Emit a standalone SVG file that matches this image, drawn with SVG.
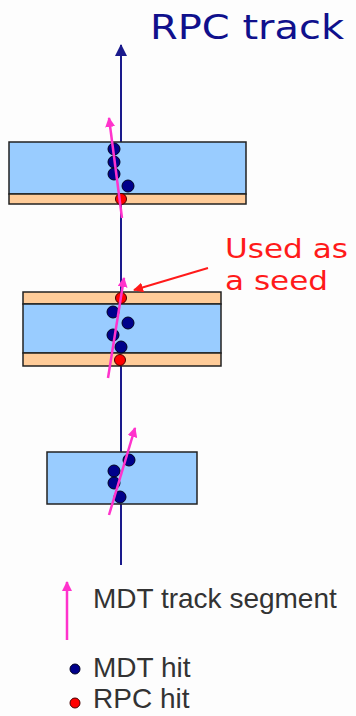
<svg xmlns="http://www.w3.org/2000/svg" width="356" height="716" viewBox="0 0 356 716">
<defs>
<style>
.mdt{fill:#99ccff;stroke:#222;stroke-width:1.5}
.rpc{fill:#ffcc99;stroke:#222;stroke-width:1.5}
.hm{fill:#00008b;stroke:#000022;stroke-width:1}
.hr{fill:#ff0000;stroke:#440000;stroke-width:1}
.seg{stroke:#ff33cc;stroke-width:2.5;fill:none;marker-end:url(#pk)}
.leg{font-family:"Liberation Sans",Arial,sans-serif;font-size:28px;fill:#333}
</style>
<marker id="pk" markerWidth="10" markerHeight="10" viewBox="0 0 10 10" refX="9" refY="5" orient="auto" markerUnits="userSpaceOnUse">
<path d="M0,0 L10,5 L0,10 z" fill="#ff33cc"/>
</marker>
<marker id="bl" markerWidth="12" markerHeight="12" viewBox="0 0 12 12" refX="11" refY="6" orient="auto" markerUnits="userSpaceOnUse">
<path d="M0,0 L12,6 L0,12 z" fill="#1a1a8c"/>
</marker>
<marker id="rd" markerWidth="10" markerHeight="10" viewBox="0 0 10 10" refX="9" refY="5" orient="auto" markerUnits="userSpaceOnUse">
<path d="M0,0 L10,5 L0,10 z" fill="#ff1a1a"/>
</marker>
</defs>
<rect width="356" height="716" fill="#fdfdfd"/>
<g id="track-line">
<line x1="121" y1="565" x2="121" y2="45" stroke="#1a1a8c" stroke-width="2" marker-end="url(#bl)"/>
</g>
<text id="title" x="150" y="39" font-family="DejaVu Sans,Verdana,sans-serif" font-size="34" fill="#10108c" textLength="194" lengthAdjust="spacingAndGlyphs">RPC track</text>
<g id="chamber-top">
<rect class="mdt" x="9" y="142" width="237" height="52"/>
<rect class="rpc" x="9" y="194" width="237" height="10"/>
<circle class="hm" cx="114" cy="149" r="6"/>
<circle class="hm" cx="114" cy="162" r="6"/>
<circle class="hm" cx="114" cy="174" r="6"/>
<circle class="hm" cx="128" cy="186" r="6"/>
<circle class="hr" cx="121" cy="199" r="5.5"/>
</g>
<g id="chamber-middle">
<rect class="rpc" x="23" y="292" width="198" height="12"/>
<rect class="mdt" x="23" y="304" width="198" height="49"/>
<rect class="rpc" x="23" y="353" width="198" height="13"/>
<circle class="hr" cx="121" cy="298" r="5.5"/>
<circle class="hm" cx="113" cy="312" r="6"/>
<circle class="hm" cx="128" cy="323" r="6"/>
<circle class="hm" cx="113" cy="335" r="6"/>
<circle class="hm" cx="121" cy="347" r="6"/>
<circle class="hr" cx="120" cy="360" r="5.5"/>
</g>
<g id="chamber-bottom">
<rect class="mdt" x="47" y="452" width="150" height="52"/>
<circle class="hm" cx="129" cy="460" r="6"/>
<circle class="hm" cx="114" cy="471" r="6"/>
<circle class="hm" cx="114" cy="483" r="6"/>
<circle class="hm" cx="120" cy="497" r="6"/>
</g>
<g id="connectors">
<line class="seg" x1="122" y1="218" x2="109" y2="118"/>
<line class="seg" x1="108" y1="378" x2="124" y2="278"/>
<line class="seg" x1="109" y1="515" x2="135" y2="428"/>
<line x1="208" y1="268" x2="134" y2="290" stroke="#ff1a1a" stroke-width="2" marker-end="url(#rd)"/>
</g>
<g id="seed-label" font-family="DejaVu Sans,Verdana,sans-serif" font-size="27" fill="#ff1a1a">
<text x="225" y="258" textLength="123" lengthAdjust="spacingAndGlyphs">Used as</text>
<text x="225" y="290" textLength="103" lengthAdjust="spacingAndGlyphs">a seed</text>
</g>
<g id="legend">
<line class="seg" x1="67" y1="640" x2="67" y2="582"/>
<text class="leg" x="93" y="608">MDT track segment</text>
<circle class="hm" cx="75" cy="669" r="5"/>
<text class="leg" x="93" y="677">MDT hit</text>
<circle class="hr" cx="75" cy="703" r="5"/>
<text class="leg" x="93" y="708">RPC hit</text>
</g>
</svg>
